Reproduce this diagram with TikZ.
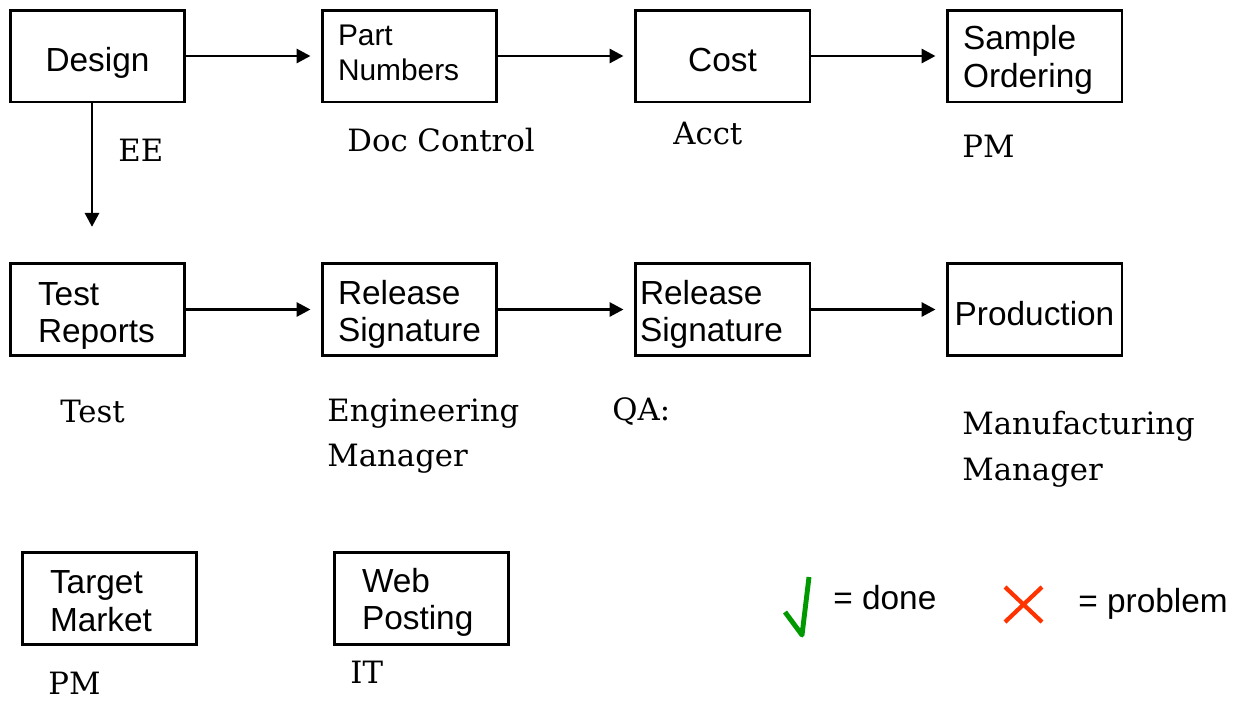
\documentclass[tikz,border=0pt]{standalone}
\usepackage{fontspec}
\setsansfont{Liberation Sans}
\newfontfamily\ownerfont{DejaVu Serif}
\usetikzlibrary{arrows.meta}
\definecolor{okgreen}{RGB}{0,153,0}
\definecolor{badred}{RGB}{255,51,0}
\newcommand{\boxstrut}[2][0pt]{\rule[-#1]{0pt}{#2}}
\begin{document}
\begin{tikzpicture}[x=0.02cm, y=-0.02cm]
		\tikzstyle {box} = [draw, line width=1.7pt, inner xsep=0pt, minimum width=3.5cm, minimum height=1.84cm, font=\sffamily\fontsize{19}{21.5}\selectfont]
		\tikzstyle {owner} = [anchor=west, inner sep=0pt, align=left, font=\ownerfont\fontsize{17.5}{26}\selectfont]
		\tikzstyle {arr} = [line width=1.7pt, -{Triangle[length=0.28cm, width=0.28cm]}, shorten >=0.2cm]

		\useasboundingbox (0,0) rectangle (1250,700);

		\node[box] (design) at (97.5,56) {\boxstrut{21.6pt}Design};
		\node[box, align=left, text width=2.86cm, font=\sffamily\fontsize{17}{20}\selectfont] (partno) at (409.5,56) {Part\\Numbers\boxstrut[3.4pt]{0pt}};
		\node[box] (cost) at (722.5,56) {\boxstrut{18.2pt}Cost};
		\node[box, align=left, text width=2.86cm] (sample) at (1034.5,56) {\boxstrut{18.2pt}Sample\\Ordering};

		\node[box, align=left, text width=2.38cm] (test) at (97.5,309.5) {\boxstrut{20.4pt}Test\\Reports};
		\node[box, align=left, text width=2.86cm] (relsig) at (409.5,309.5) {\boxstrut{19.3pt}Release\\Signature};
		\node[box, align=left, text width=3.3cm] (qasig) at (722.5,309.5) {\boxstrut{19.3pt}Release\\Signature};
		\node[box] (prod) at (1034.5,309.5) {\boxstrut{18.2pt}Production};

		\node[box, align=left, text width=2.38cm] (target) at (109.5,598.5) {\boxstrut{15.9pt}Target\\Market};
		\node[box, align=left, text width=2.38cm] (web) at (421.5,598.5) {\boxstrut{18.2pt}Web\\Posting};

		\draw[arr] (design) -- (partno);
		\draw[arr] (partno) -- (cost);
		\draw[arr] (cost) -- (sample);
		\draw[arr, shorten >=0.7cm] ([xshift=-0.11cm]design.south) -- ([xshift=-0.11cm]test.north);
		\draw[arr] (test) -- (relsig);
		\draw[arr] (relsig) -- (qasig);
		\draw[arr] (qasig) -- (prod);

		\node[owner] (ee) at (118,150) {EE};
		\node[owner] (doc) at (347,140) {Doc Control};
		\node[owner] (acct) at (673,134) {Acct};
		\node[owner] (pm) at (962,146) {PM};
		\node[owner] (tester) at (60,412) {Test};
		\node[owner] (engmgr) at (327,436) {Engineering\\Manager};
		\node[owner] (qa) at (612,412) {QA:};
		\node[owner] (mfgmgr) at (962,449) {Manufacturing\\Manager};
		\node[owner] (pmtm) at (48,683) {PM};
		\node[owner] (it) at (350,672) {IT};

		\draw[okgreen, line width=2.8pt, line join=round] (785,612) -- (802,635) -- (809,577);
		\node[anchor=west, inner sep=0pt, font=\sffamily\fontsize{19}{21.5}\selectfont] (done) at (833,598) {= done};
		\draw[badred, line width=2.4pt] (1005,587) -- (1042,622);
		\draw[badred, line width=2.4pt] (1005,622) -- (1042,587);
		\node[anchor=west, inner sep=0pt, font=\sffamily\fontsize{19}{21.5}\selectfont] (problem) at (1078,604) {= problem};
\end{tikzpicture}
\end{document}
